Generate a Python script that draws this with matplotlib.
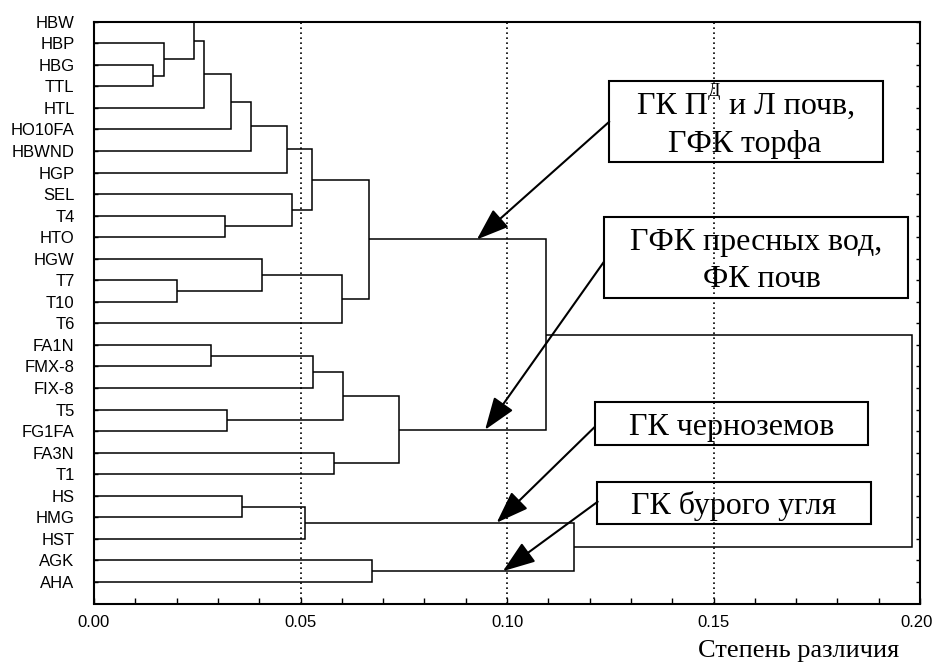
import matplotlib
matplotlib.use("Agg")
import matplotlib.pyplot as plt
from matplotlib.patches import Rectangle
from matplotlib.ticker import FixedLocator, MultipleLocator
from matplotlib.transforms import ScaledTranslation

# ---------------- data ----------------
leaves = ["HBW", "HBP", "HBG", "TTL", "HTL", "HO10FA", "HBWND", "HGP", "SEL",
          "T4", "HTO", "HGW", "T7", "T10", "T6", "FA1N", "FMX-8", "FIX-8",
          "T5", "FG1FA", "FA3N", "T1", "HS", "HMG", "HST", "AGK", "AHA"]

# merges: ids < 27 are leaves, ids >= 27 are earlier merges (27 + k)
merge_left = [2, 1, 0, 29, 30, 31, 32, 9, 8, 33, 12, 11, 38, 36,
              15, 41, 18, 42, 20, 44, 40, 22, 48, 25, 49, 47]
merge_right = [3, 27, 28, 4, 5, 6, 7, 10, 34, 35, 13, 37, 14, 39,
               16, 17, 19, 43, 21, 45, 46, 23, 24, 26, 50, 51]
merge_height = [0.0142, 0.0170, 0.0243, 0.0266, 0.0332, 0.0379, 0.0468,
                0.0317, 0.0480, 0.0527, 0.0200, 0.0406, 0.0600, 0.0666,
                0.0283, 0.0530, 0.0323, 0.0603, 0.0580, 0.0738, 0.1094,
                0.0359, 0.0511, 0.0672, 0.1162, 0.1980]

x_ticks = [0.00, 0.05, 0.10, 0.15, 0.20]
x_tick_labels = ["0.00", "0.05", "0.10", "0.15", "0.20"]
x_label = "Степень различия"

# ---------------- figure ----------------
W, H = 933, 665
fig = plt.figure(figsize=(W / 100, H / 100), dpi=100)


def fxy(px, py):
    return (px / W, 1 - py / H)


ax = fig.add_axes([94 / W, 1 - 603.5 / H, (920 - 94) / W, (603.5 - 21.7) / H])

n = len(leaves)
ypos = {i: float(i) for i in range(n)}
xpos = {i: 0.0 for i in range(n)}
lw_d = 1.1
for k, (a, b, h) in enumerate(zip(merge_left, merge_right, merge_height)):
    ya, yb = ypos[a], ypos[b]
    xa, xb = xpos[a], xpos[b]
    ax.plot([xa, h, h, xb], [ya, ya, yb, yb], color="black", lw=lw_d,
            solid_capstyle="butt", solid_joinstyle="miter", clip_on=False,
            zorder=3)
    nid = n + k
    ypos[nid] = (ya + yb) / 2
    xpos[nid] = h

ax.set_xlim(0, 0.20)
ax.set_ylim(27, 0)

ax.set_yticks(range(n))
ax.set_yticklabels(leaves, family="Liberation Sans", fontsize=12)
ax.yaxis.set_ticks_position("both")
ax.tick_params(axis="y", which="major", direction="in", length=3, width=1,
               pad=14, left=True, right=True)

ax.xaxis.set_major_locator(FixedLocator(x_ticks))
ax.set_xticklabels(x_tick_labels, family="Liberation Sans", fontsize=12)
ax.xaxis.set_minor_locator(MultipleLocator(0.01))
ax.tick_params(axis="x", which="major", direction="in", length=4, width=1,
               pad=8)
ax.tick_params(axis="x", which="minor", direction="in", length=4, width=1)

# keep the last x label inside the picture
last = ax.xaxis.get_major_ticks()[-1].label1
last.set_transform(last.get_transform() +
                   ScaledTranslation(-3 / 100, 0, fig.dpi_scale_trans))

for xv in x_ticks[1:-1]:
    ax.axvline(xv, color="black", lw=1.2, linestyle=(0, (1, 2)), zorder=4)

for s in ax.spines.values():
    s.set_linewidth(1.5)

# ---------------- annotations ----------------
serif = "Liberation Serif"
fs_box = 23

boxes = [(609, 81, 883, 162), (604, 217, 908, 298),
         (595, 402, 868, 445), (597, 482, 871, 524)]
for (l, t, r, b) in boxes:
    x0, y0 = fxy(l, b)
    fig.add_artist(Rectangle((x0, y0), (r - l) / W, (b - t) / H,
                             transform=fig.transFigure, fill=False,
                             ec="black", lw=1.5, zorder=5))

texts = [
    ("ГФК торфа", 745, 152),
    ("ГФК пресных вод,", 756, 250),
    ("ФК почв", 762, 287),
    ("ГК черноземов", 731.5, 435),
    ("ГК бурого угля", 734, 514),
]
for s, px, py in texts:
    x, y = fxy(px, py)
    fig.text(x, y, s, ha="center", va="baseline", family=serif,
             fontsize=fs_box, zorder=6)

# first line of box 1 with a raised "Д"
renderer = fig.canvas.get_renderer()
pieces = [("ГК П", fs_box, 0), ("Д", 13, 18), (" и Л почв,", fs_box, 0)]
objs = []
widths = []
for s, fs, raise_px in pieces:
    t = fig.text(0, 0, s, ha="left", va="baseline", family=serif,
                 fontsize=fs, zorder=6)
    objs.append((t, raise_px))
    widths.append(t.get_window_extent(renderer).width)
cx, base = 746, 114
xcur = cx - sum(widths) / 2
for (t, raise_px), w in zip(objs, widths):
    t.set_position(fxy(xcur, base - raise_px))
    xcur += w

arrow_starts = [(609.3, 121.7), (604, 261.7), (595, 426.7), (597.7, 501.7)]
arrow_nodes = [40, 46, 49, 50]
arrow_x = [0.0927, 0.0947, 0.0975, 0.0990]
for (sx, sy), node, tx in zip(arrow_starts, arrow_nodes, arrow_x):
    ax.annotate("", xy=(tx, ypos[node]), xycoords="data",
                xytext=fxy(sx, sy), textcoords="figure fraction",
                arrowprops=dict(arrowstyle="-|>,head_length=2.0,head_width=0.72",
                                mutation_scale=10, color="black", lw=1.5,
                                shrinkA=0, shrinkB=0),
                annotation_clip=False, zorder=7)

xl, yl = fxy(799, 657)
fig.text(xl, yl, x_label, ha="center", va="baseline", family=serif,
         fontsize=19)

fig.savefig("out.png", dpi=100, facecolor="white")
